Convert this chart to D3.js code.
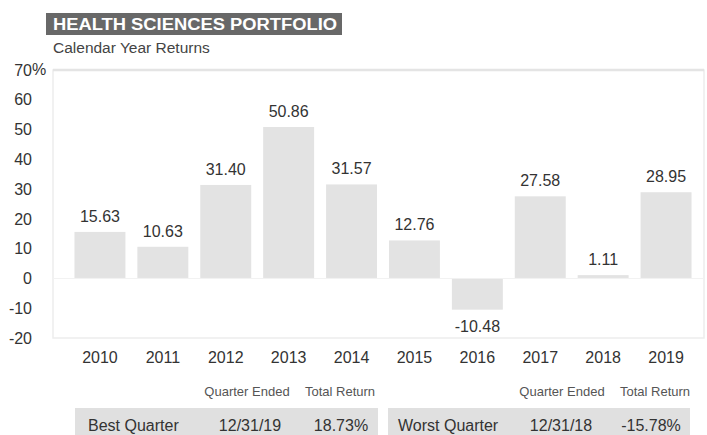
<!DOCTYPE html>
<html>
<head>
<meta charset="utf-8">
<script src="https://cdn.jsdelivr.net/npm/d3@7"></script>
<style>
  body { margin: 0; background: #fff; }
  svg text { font-family: "Liberation Sans", Arial, Helvetica, sans-serif; }
</style>
</head>
<body>
<div id="chart"></div>
<script>
// dados
var years = ['2010', '2011', '2012', '2013', '2014', '2015', '2016', '2017', '2018', '2019'];
var returns = [15.63, 10.63, 31.40, 50.86, 31.57, 12.76, -10.48, 27.58, 1.11, 28.95];
var yTicks = [-20, -10, 0, 10, 20, 30, 40, 50, 60, 70];

var quarterNames = ['Best Quarter', 'Worst Quarter'];
var quarterDates = ['12/31/19', '12/31/18'];
var quarterReturns = ['18.73%', '-15.78%'];
var quarterHeaders = ['Quarter Ended', 'Total Return'];

var svg = d3.select('#chart').append('svg')
  .attr('width', 707)
  .attr('height', 435);

// titulo
svg.append('rect')
  .attr('x', 46).attr('y', 13)
  .attr('width', 296).attr('height', 22)
  .attr('fill', '#686868');

svg.append('text')
  .attr('x', 53).attr('y', 30)
  .attr('font-size', 16)
  .attr('font-weight', 'bold')
  .attr('fill', '#fff')
  .attr('textLength', 284)
  .attr('lengthAdjust', 'spacingAndGlyphs')
  .text('HEALTH SCIENCES PORTFOLIO');

svg.append('text')
  .attr('x', 53).attr('y', 53)
  .attr('font-size', 15.5)
  .attr('fill', '#444')
  .text('Calendar Year Returns');

// escalas
var x = d3.scaleBand()
  .domain(years)
  .range([68.5, 697.5])
  .paddingInner(0.19)
  .paddingOuter(0.095);

var y = d3.scaleLinear()
  .domain([-20, 70])
  .range([338, 70]);

// moldura do grafico
svg.append('rect')
  .attr('x', 53).attr('y', y(70))
  .attr('width', 651).attr('height', y(-20) - y(70))
  .attr('fill', '#fff')
  .attr('stroke', '#ededed')
  .attr('stroke-width', 1.5);

svg.append('line')
  .attr('x1', 53).attr('x2', 704)
  .attr('y1', y(70)).attr('y2', y(70))
  .attr('stroke', '#e4e4e4')
  .attr('stroke-width', 2.5);

// barras
svg.selectAll('.bar')
  .data(returns)
  .enter().append('rect')
  .attr('class', 'bar')
  .attr('x', function(d, i) { return x(years[i]); })
  .attr('y', function(d) { return y(Math.max(0, d)); })
  .attr('width', x.bandwidth())
  .attr('height', function(d) { return Math.abs(y(d) - y(0)); })
  .attr('fill', '#e3e3e3');

// linha do zero
svg.append('line')
  .attr('x1', 53).attr('x2', 704)
  .attr('y1', y(0)).attr('y2', y(0))
  .attr('stroke', '#f2f2f2')
  .attr('stroke-width', 1);

// rotulos dos valores
svg.selectAll('.val')
  .data(returns)
  .enter().append('text')
  .attr('class', 'val')
  .attr('x', function(d, i) { return x(years[i]) + x.bandwidth() / 2; })
  .attr('y', function(d) { return d >= 0 ? y(d) - 10 : y(d) + 22; })
  .attr('text-anchor', 'middle')
  .attr('font-size', 16)
  .attr('fill', '#333')
  .text(function(d) { return d.toFixed(2); });

// eixo y
var yAxis = svg.append('g')
  .attr('transform', 'translate(32,0)')
  .call(d3.axisLeft(y).tickValues(yTicks).tickSize(0).tickPadding(0)
    .tickFormat(function(d) { return String(d); }));
yAxis.select('.domain').remove();
yAxis.selectAll('text')
  .attr('font-size', 16)
  .attr('fill', '#333')
  .style('font-family', '"Liberation Sans", Arial, sans-serif');

svg.append('text')
  .attr('x', 32).attr('y', y(70))
  .attr('dy', '0.32em')
  .attr('font-size', 16)
  .attr('fill', '#333')
  .text('%');

// eixo x
var xAxis = svg.append('g')
  .attr('transform', 'translate(0,' + 350 + ')')
  .call(d3.axisBottom(x).tickSize(0).tickPadding(0));
xAxis.select('.domain').remove();
xAxis.selectAll('text')
  .attr('font-size', 16)
  .attr('fill', '#333')
  .attr('dy', '0.8em')
  .style('font-family', '"Liberation Sans", Arial, sans-serif');

// tabela de trimestres
var boxX = [75, 388];
var boxW = [303, 302];
var nameX = [88, 398];
var dateX = [250, 561];
var retX = [341, 651];
var headX = [[247, 340], [562, 655]];

quarterNames.forEach(function(name, i) {
  headX[i].forEach(function(hx, j) {
    svg.append('text')
      .attr('x', hx).attr('y', 396)
      .attr('text-anchor', 'middle')
      .attr('font-size', 13)
      .attr('fill', '#555')
      .text(quarterHeaders[j]);
  });

  svg.append('rect')
    .attr('x', boxX[i]).attr('y', 408)
    .attr('width', boxW[i]).attr('height', 27)
    .attr('fill', '#e0e0e0');

  svg.append('text')
    .attr('x', nameX[i]).attr('y', 431)
    .attr('font-size', 16)
    .attr('fill', '#333')
    .text(name);

  svg.append('text')
    .attr('x', dateX[i]).attr('y', 431)
    .attr('text-anchor', 'middle')
    .attr('font-size', 16)
    .attr('fill', '#333')
    .text(quarterDates[i]);

  svg.append('text')
    .attr('x', retX[i]).attr('y', 431)
    .attr('text-anchor', 'middle')
    .attr('font-size', 16)
    .attr('fill', '#333')
    .text(quarterReturns[i]);
});
</script>
</body>
</html>
